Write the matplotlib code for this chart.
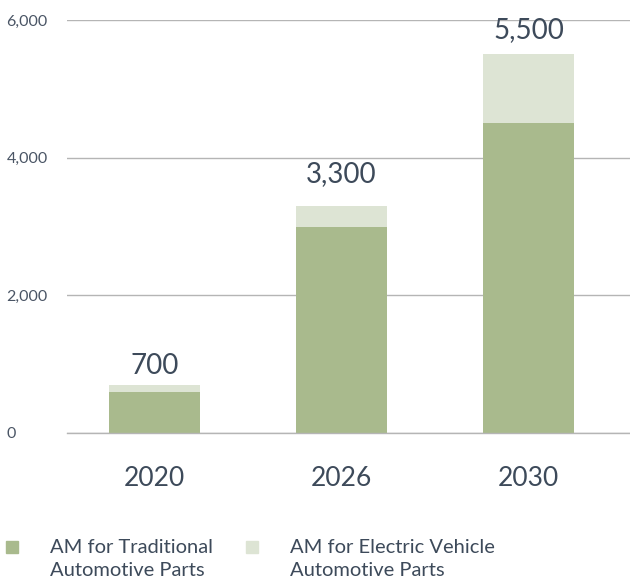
import matplotlib
matplotlib.use("Agg")
import matplotlib.pyplot as plt
from matplotlib.patches import Rectangle

plt.rcParams['font.family'] = ['Lato', 'DejaVu Sans']

# Données
years = ["2020", "2026", "2030"]
traditional = [600, 3000, 4500]
electric = [100, 300, 1000]
totals = ["700", "3,300", "5,500"]
y_ticks = [0, 2000, 4000, 6000]
y_tick_labels = ["0", "2,000", "4,000", "6,000"]
legend_labels = ["AM for Traditional\nAutomotive Parts", "AM for Electric Vehicle\nAutomotive Parts"]

dark_green = "#a9ba8d"
light_green = "#dde4d4"
text_color = "#3d4a5a"
grid_color = "#b5b5b5"

W, H = 630, 583
fig = plt.figure(figsize=(W / 100, H / 100), dpi=100)
ax = fig.add_axes([67 / W, (H - 433) / H, 1 - 67 / W, (433 - 20) / H])

x = list(range(len(years)))
width = 0.487
ax.bar(x, traditional, width, color=dark_green, zorder=2)
ax.bar(x, electric, width, bottom=traditional, color=light_green, zorder=2)

# Étiquettes des totaux au-dessus des barres (décalage vertical en points)
label_offsets = [7.5, 17, 12]
for xi, t, e, lab, off in zip(x, traditional, electric, totals, label_offsets):
    ax.annotate(lab, (xi, t + e), xytext=(0, off), textcoords="offset points",
                ha="center", va="baseline", fontsize=20, color=text_color)

ax.set_xlim(-0.468, 2.543)
ax.set_ylim(0, 6000)
ax.set_yticks(y_ticks)
ax.set_yticklabels(y_tick_labels)
ax.yaxis.grid(True, color=grid_color, linewidth=1)
ax.set_axisbelow(True)
ax.tick_params(axis="y", length=0, pad=43.5, labelsize=11.5, labelcolor="#4a5565")
for lbl in ax.get_yticklabels():
    lbl.set_horizontalalignment("left")

ax.set_xticks(x)
ax.set_xticklabels(years)
ax.tick_params(axis="x", length=0, pad=24, labelsize=19, labelcolor=text_color)

for s in ["top", "right", "left"]:
    ax.spines[s].set_visible(False)
ax.spines["bottom"].set_color(grid_color)
ax.spines["bottom"].set_linewidth(1)

# Légende
for sx, tx, col, lab in [(6, 50, dark_green, legend_labels[0]), (246, 290, light_green, legend_labels[1])]:
    fig.patches.append(Rectangle((sx / W, (H - 553) / H), 12 / W, 12 / H,
                                 transform=fig.transFigure, color=col))
    fig.text(tx / W, (H - 539) / H, lab, ha="left", va="top", fontsize=14.5,
             color=text_color, linespacing=1.45)

fig.savefig("out.png", dpi=100, facecolor="white")
